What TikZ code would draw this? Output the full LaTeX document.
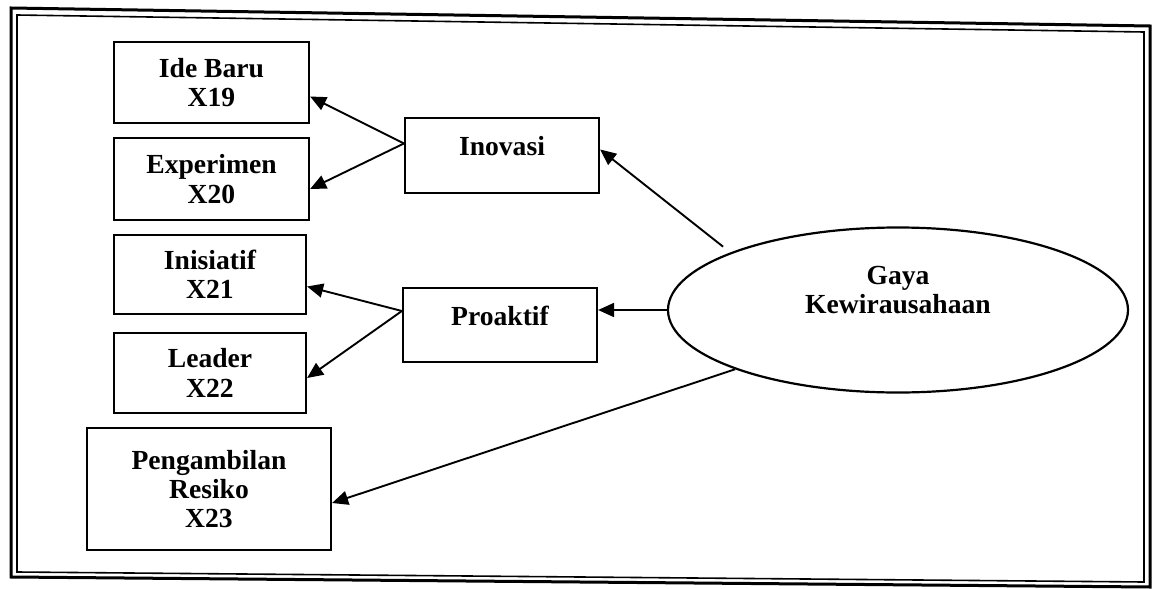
\documentclass[tikz,border=0pt]{standalone}
\usepackage{fontspec}
\setmainfont{Liberation Serif}
\usetikzlibrary{shapes.geometric,arrows.meta}
\begin{document}
\begin{tikzpicture}[x=0.5pt,y=-0.5pt,
  txt/.style={font=\bfseries\fontsize{13.8}{14.6}\selectfont},
  box/.style={draw,line width=1.1pt,rectangle,align=center,inner sep=0pt,txt},
  single/.style={text height=9pt,text depth=9pt},
  arr/.style={-{Triangle[length=8pt,width=7pt]},line width=0.95pt}]
\useasboundingbox (0,0) rectangle (1152,589);
% frame
\draw[line width=1.5pt] (11,8) -- (1150,26) -- (1150,587) -- (11,577) -- cycle;
\draw[line width=0.8pt] (17,15) -- (1144,32) -- (1144,582) -- (17,572) -- cycle;
% nodes
\node[box,minimum width=97.5pt,minimum height=40.5pt] (ide) at (211.5,82.5) {Ide Baru\\X19};
\node[box,minimum width=97.5pt,minimum height=41pt] (exp) at (211.5,179) {Experimen\\X20};
\node[box,minimum width=96pt,minimum height=39.5pt] (ini) at (210,274.5) {Inisiatif\\X21};
\node[box,minimum width=96pt,minimum height=40pt] (lea) at (210,373) {Leader\\X22};
\node[box,minimum width=122pt,minimum height=61pt] (pen) at (209,489) {Pengambilan\\Resiko\\X23};
\node[box,single,minimum width=97pt,minimum height=37.5pt] (inov) at (502,155.5) {Inovasi};
\node[box,single,minimum width=97pt,minimum height=37pt] (pro) at (500,325) {Proaktif};
\node[draw,ellipse,line width=1.1pt,inner sep=0pt,minimum width=230pt,minimum height=82.5pt,
  label={[txt,align=center,yshift=10pt]center:Gaya\\Kewirausahaan}] (g) at (898,310) {};
% connectors
\draw[arr] ([yshift=6pt]inov.west) -- ([yshift=-7pt]ide.east);
\draw[arr] ([yshift=6pt]inov.west) -- ([yshift=-5pt]exp.east);
\draw[arr] ([yshift=7pt]pro.west) -- ([yshift=-6pt]ini.east);
\draw[arr] ([yshift=7pt]pro.west) -- ([yshift=-2.5pt]lea.east);
\draw[arr] ([xshift=-6pt,yshift=2pt]g.160) -- ([yshift=3pt]inov.east);
\draw[arr] (g.west) -- (pro.east |- g.west);
\draw[arr] (g.200) -- ([yshift=-7pt]pen.east);
\end{tikzpicture}
\end{document}
